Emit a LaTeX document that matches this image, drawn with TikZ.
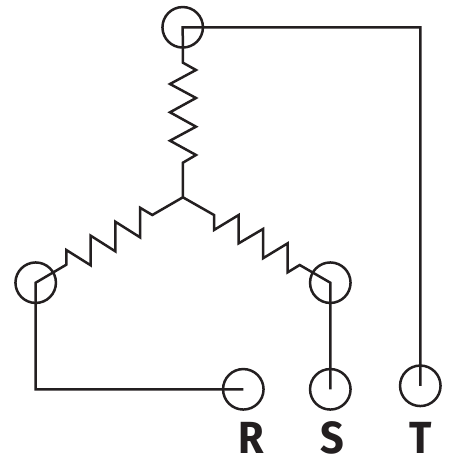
\documentclass[tikz,border=0pt]{standalone}
\usepackage{fontspec}
\setsansfont{Fira Sans}
\definecolor{ink}{HTML}{231F20}
\tikzset{
  terminal/.style={circle,draw=ink,line width=2.5pt,minimum size=40.5pt,inner sep=0pt},
  wire/.style={draw=ink,line width=2.5pt,line join=miter},
  phase/.style={text=ink,inner sep=0pt,xscale=.92,font=\sffamily\bfseries\fontsize{45}{45}\selectfont,anchor=base}
}
\begin{document}
\begin{tikzpicture}[x=1pt,y=-1pt]
\useasboundingbox (0,0) rectangle (448,457);
\node[terminal] (top) at (182.7,27.3) {};
\node[terminal] (left) at (35.7,282.7) {};
\node[terminal] (right) at (330.3,282.7) {};
\node[terminal] (r) at (243.3,389.3) {};
\node[terminal] (s) at (330.3,389.3) {};
\node[terminal] (t) at (420.3,385.8) {};
\coordinate (hub) at (182.9,197.3);
\node[phase] (lr) at (251,453.5) {R};
\node[phase] (ls) at (332,453.5) {S};
\node[phase] (lt) at (420.5,453.5) {T};
% top winding
\draw[wire] (hub) -- (182.9,162.7) -- (196,155) -- (170,140.7) -- (196,126.7) -- (170,112.3) -- (196,98) -- (170,84) -- (196,70) -- (182.9,62.7) -- (top.center) -- (420.3,27.3) -- (t.center);
% left winding
\draw[wire] (hub) -- (152.3,215) -- (140,207.7) -- (140,237.3) -- (115.3,221.7) -- (115.3,251.3) -- (90.7,235.7) -- (90.7,265.3) -- (66.3,250) -- (66.3,264.7) -- (left.center) -- (35.7,389.3) -- (r.center);
% right winding
\draw[wire] (hub) -- (214,215) -- (214,230) -- (238.7,215) -- (238.7,243.3) -- (263,229) -- (263,258.3) -- (287.7,243.3) -- (287.7,272.3) -- (299.7,265) -- (right.center) -- (s.center);
\end{tikzpicture}
\end{document}
